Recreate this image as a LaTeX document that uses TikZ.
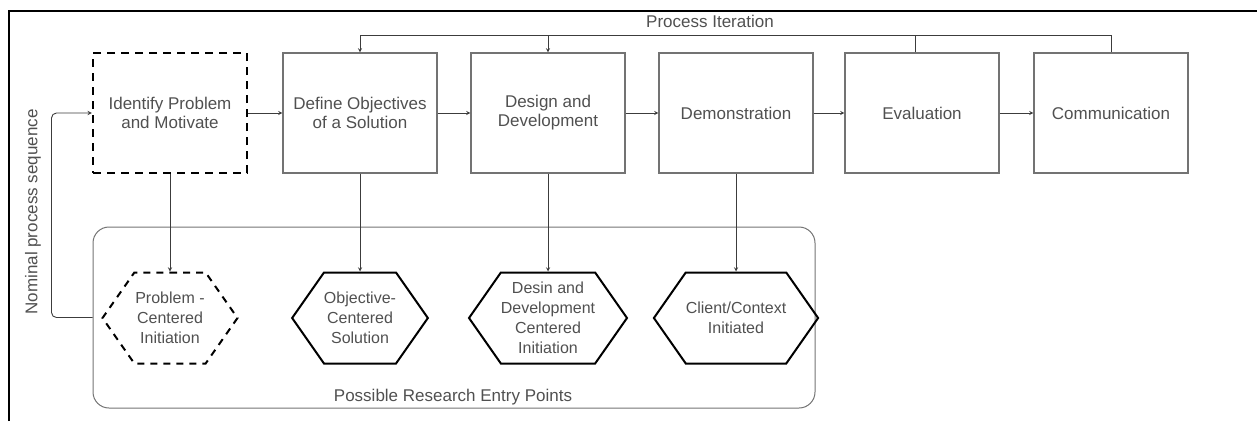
\documentclass[tikz,border=0pt]{standalone}
\usepackage{fontspec}
\setmainfont{Liberation Sans}
\usetikzlibrary{shapes.symbols}
\definecolor{boxgray}{RGB}{115,115,115}
\definecolor{textgray}{RGB}{80,80,80}
\definecolor{linegray}{RGB}{60,60,60}

\begin{document}
\begin{tikzpicture}[x=1pt,y=-1pt]

%
% Styles
%
\tikzstyle{stage}  = [rectangle,draw=boxgray,line width=1.2pt,minimum width=154pt,minimum height=120pt,
                      inner sep=0pt,align=center,text=textgray,font=\fontsize{17}{19}\selectfont]
\tikzstyle{dashedstage} = [stage,draw=black,line width=2.4pt,dash pattern=on 8pt off 6pt]
\tikzstyle{entry}  = [signal,signal to=east and west,signal pointer angle=110,draw=black,line width=2pt,
                      minimum width=135pt,minimum height=91pt,inner sep=0pt,align=center,
                      text=textgray,font=\fontsize{16}{20}\selectfont]
\tikzstyle{dashedentry} = [entry,dash pattern=on 7pt off 6pt]
\tikzstyle{caption} = [text=textgray,font=\fontsize{17}{20}\selectfont]

\tikzstyle{edge}   = [->,>=stealth,draw=linegray,line width=0.9pt]

\useasboundingbox (0,0) rectangle (1257,421);
\draw[line width=2pt] (9,421) -- (9,11) -- (1257,11);

% process stages
\node[dashedstage] (identify) at ( 170,113) {Identify Problem\\and Motivate};
\node[stage]       (define)   at ( 360,113) {Define Objectives\\of a Solution};
\node[stage]       (design)   at ( 548,113) {Design and\\Development};
\node[stage]       (demo)     at ( 736,113) {Demonstration};
\node[stage]       (eval)     at ( 922,113) {Evaluation};
\node[stage]       (comm)     at (1111,113) {Communication};

% entry points
\node[draw=boxgray,line width=1pt,rounded corners=16pt,minimum width=722pt,minimum height=181pt]
      (entrypoints) at (454,317.5) {};
\node[dashedentry] (problem)   at (170,318) {Problem -\\Centered\\Initiation};
\node[entry]       (objective) at (360,318) {Objective-\\Centered\\Solution};
\node[entry]       (desin)     at (548,318) {Desin and\\Development\\Centered\\Initiation};
\node[entry]       (client)    at (736,318) {Client/Context\\Initiated};

\node[caption] (entrylabel) at (453,397) {Possible Research Entry Points};
\node[caption] (iterlabel)  at (710,21)  {Process Iteration};
\node[caption,rotate=90] (nominal) at (33,212) {Nominal process sequence};

\draw[edge] (identify) -- (define);
\draw[edge] (define)   -- (design);
\draw[edge] (design)   -- (demo);
\draw[edge] (demo)     -- (eval);
\draw[edge] (eval)     -- (comm);

\draw[edge] (identify.south) -- (problem.north);
\draw[edge] (define.south)   -- (objective.north);
\draw[edge] (design.south)   -- (desin.north);
\draw[edge] (demo.south)     -- (client.north);

\draw[edge] (comm.north) -- ++(0,-17) -| (define.north);
\draw[edge] ([xshift=-7pt]eval.north) -- ++(0,-17) -| (design.north);

\draw[edge,rounded corners=5pt] (entrypoints.west) -- ++(-41,0) |- (identify.west);

\end{tikzpicture}
\end{document}
